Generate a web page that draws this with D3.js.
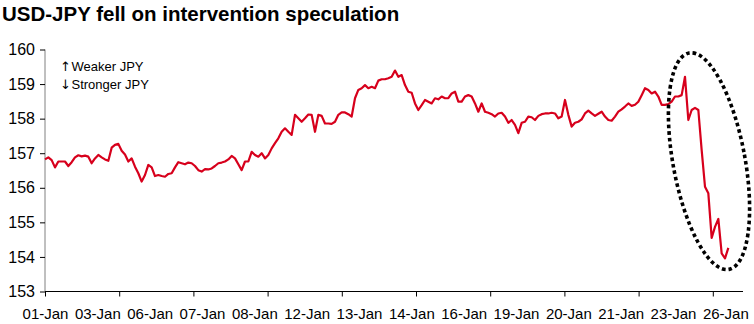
<!DOCTYPE html>
<html><head><meta charset="utf-8">
<script src="https://cdn.jsdelivr.net/npm/d3@7"></script>
<style>
body{margin:0;background:#fff;}
svg{display:block;font-family:"Liberation Sans",Arial,sans-serif;}
</style></head>
<body>
<svg id="chart" width="754" height="324"></svg>
<script>
// ---- data ----
const title = "USD-JPY fell on intervention speculation";
const legendLines = ["Weaker JPY", "Stronger JPY"];
const xLabels = ["01-Jan","03-Jan","06-Jan","07-Jan","08-Jan","12-Jan","13-Jan","14-Jan","16-Jan","19-Jan","20-Jan","21-Jan","23-Jan","26-Jan"];
const yTicks = [153,154,155,156,157,158,159,160];
// USD-JPY, evenly spaced intraday samples
const usdjpy = [
156.82,156.88,156.80,156.59,156.76,156.76,156.76,156.63,156.74,156.88,
156.94,156.91,156.93,156.90,156.71,156.85,156.95,156.88,156.82,156.78,
157.16,157.24,157.27,157.07,156.96,156.76,156.85,156.61,156.42,156.18,
156.37,156.66,156.59,156.34,156.37,156.34,156.32,156.40,156.42,156.59,
156.74,156.71,156.68,156.73,156.71,156.63,156.51,156.47,156.54,156.53,
156.56,156.63,156.71,156.73,156.76,156.82,156.92,156.85,156.68,156.51,
156.76,156.76,157.04,156.95,156.90,157.00,156.85,156.95,157.14,157.29,
157.43,157.62,157.72,157.62,157.53,158.11,158.01,157.91,158.01,158.12,
158.11,157.62,158.11,158.08,157.86,157.86,157.85,157.91,158.11,158.18,
158.18,158.13,158.06,158.59,158.83,158.88,158.97,158.88,158.92,158.88,
159.10,159.14,159.14,159.17,159.21,159.39,159.21,159.26,158.97,158.78,
158.75,158.44,158.25,158.39,158.54,158.49,158.44,158.59,158.56,158.64,
158.59,158.59,158.73,158.78,158.49,158.49,158.64,158.68,158.64,158.44,
158.20,158.44,158.20,158.17,158.13,158.06,158.15,158.17,158.06,157.88,
157.96,157.82,157.58,157.88,157.91,158.06,158.04,157.96,158.08,158.13,
158.15,158.15,158.17,158.15,158.01,158.06,158.54,158.11,157.77,157.88,
157.91,157.98,158.15,158.23,158.15,158.08,158.14,158.20,158.06,157.96,
157.94,158.06,158.20,158.27,158.35,158.44,158.37,158.40,158.49,158.68,
158.88,158.83,158.73,158.78,158.64,158.40,158.40,158.42,158.49,158.64,
158.64,158.68,159.21,157.96,158.25,158.31,158.25,157.09,156.03,155.84,
154.55,154.87,155.10,154.10,153.96,154.26
];
const axisSpan = 209.4;     // total sample slots on the axis
const tickStep = 22.26;     // samples between axis tick marks
const labelStep = 15.7;     // samples between date labels
const labelStart = 0.15;

// ---- layout ----
const svg = d3.select("#chart");
const x = d3.scaleLinear().domain([0, axisSpan]).range([45, 743]);
const y = d3.scaleLinear().domain([153, 160]).range([291.5, 49.5]);

// title
svg.append("text").attr("x", 2).attr("y", 21)
  .attr("font-size", 20.5).attr("font-weight", "bold").attr("fill", "#000")
  .text(title);

// y axis
const yAxis = svg.append("g").attr("transform", "translate(45,0)")
  .call(d3.axisLeft(y).tickValues(yTicks).tickSize(5).tickPadding(5).tickFormat(d3.format("d")));
yAxis.select(".domain").attr("stroke", "#808080").attr("d", `M0,${y(153)}V${y(160)}`);
yAxis.selectAll(".tick line").attr("stroke", "#000");
yAxis.selectAll(".tick text").attr("font-size", 16).attr("fill", "#000")
  .attr("font-family", "Liberation Sans, Arial, sans-serif");

// x axis
const tickVals = d3.range(0, axisSpan, tickStep);
const xAxis = svg.append("g").attr("transform", `translate(0,${y(153)})`)
  .call(d3.axisBottom(x).tickValues(tickVals).tickSize(5).tickFormat(""));
xAxis.select(".domain").attr("stroke", "#000").attr("d", `M${x(0)},0H${x(axisSpan)}`);
xAxis.selectAll(".tick line").attr("stroke", "#000");

svg.append("g").selectAll("text").data(xLabels).join("text")
  .attr("x", (d, i) => x(labelStart + i * labelStep))
  .attr("y", y(153) + 27)
  .attr("text-anchor", "middle").attr("font-size", 15).attr("fill", "#000")
  .text(d => d);

// legend
const lg = svg.append("g");
["\u2191", "\u2193"].forEach((a, i) => {
  lg.append("text").attr("x", 60).attr("y", 71 + i * 17.5)
    .attr("font-size", 13).attr("font-family", "DejaVu Sans, sans-serif").text(a);
  lg.append("text").attr("x", 71.5).attr("y", 71 + i * 17.5)
    .attr("font-size", 13).attr("fill", "#000").text(legendLines[i]);
});

// line
const line = d3.line().x((d, i) => x(i)).y(d => y(d));
svg.append("path").datum(usdjpy)
  .attr("fill", "none").attr("stroke", "#d7001c").attr("stroke-width", 2.2)
  .attr("stroke-linejoin", "round").attr("d", line);

// annotation ellipse round the final drop
const ecx = x(199.2), ecy = y(156.77);
svg.append("ellipse")
  .attr("cx", 0).attr("cy", 0).attr("rx", 36).attr("ry", 110)
  .attr("transform", `translate(${ecx},${ecy}) rotate(-10.4)`)
  .attr("fill", "none").attr("stroke", "#000").attr("stroke-width", 3.6)
  .attr("stroke-dasharray", "3.6 3");
</script>
</body></html>
